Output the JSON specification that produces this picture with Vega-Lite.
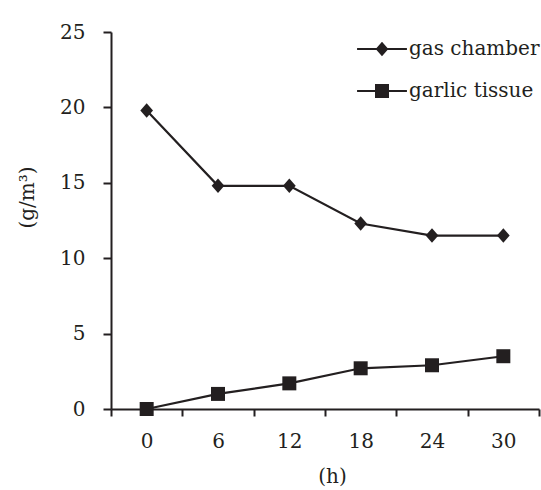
{
  "$schema": "https://vega.github.io/schema/vega-lite/v6.json",
  "width": 428,
  "height": 377,
  "autosize": {"type": "none"},
  "padding": {"left": 111, "top": 32, "right": 2, "bottom": 81},
  "background": "white",
  "config": {"view": {"stroke": null}, "font": "DejaVu Serif"},
  "data": {
    "values": [
      {"time": 0, "series": "gas chamber", "value": 19.8},
      {"time": 6, "series": "gas chamber", "value": 14.8},
      {"time": 12, "series": "gas chamber", "value": 14.8},
      {"time": 18, "series": "gas chamber", "value": 12.3},
      {"time": 24, "series": "gas chamber", "value": 11.5},
      {"time": 30, "series": "gas chamber", "value": 11.5},
      {"time": 0, "series": "garlic tissue", "value": 0},
      {"time": 6, "series": "garlic tissue", "value": 1.0},
      {"time": 12, "series": "garlic tissue", "value": 1.7},
      {"time": 18, "series": "garlic tissue", "value": 2.7},
      {"time": 24, "series": "garlic tissue", "value": 2.9},
      {"time": 30, "series": "garlic tissue", "value": 3.5}
    ]
  },
  "encoding": {
    "x": {
      "field": "time",
      "type": "ordinal",
      "scale": {"type": "band", "paddingInner": 0, "paddingOuter": 0},
      "axis": {
        "title": "(h)",
        "tickBand": "extent",
        "labelAngle": 0,
        "grid": false,
        "domainColor": "#231f20",
        "tickColor": "#231f20",
        "labelColor": "#231f20",
        "titleColor": "#231f20",
        "tickSize": 7,
        "tickWidth": 2,
        "domainWidth": 2,
        "labelFontSize": 20,
        "labelPadding": 15,
        "labelDx": -7,
        "titleFontSize": 20,
        "titleFontWeight": "normal",
        "titlePadding": 15,
        "titleX": 221
      }
    },
    "y": {
      "field": "value",
      "type": "quantitative",
      "scale": {"domain": [0, 25]},
      "axis": {
        "title": "(g/m³)",
        "values": [0, 5, 10, 15, 20, 25],
        "grid": false,
        "domainColor": "#231f20",
        "tickColor": "#231f20",
        "labelColor": "#231f20",
        "titleColor": "#231f20",
        "tickSize": 8,
        "tickWidth": 2,
        "domainWidth": 2,
        "labelFontSize": 20,
        "labelPadding": 18,
        "titleFontSize": 20,
        "titleFontWeight": "normal",
        "titlePadding": 22,
        "titleY": 165
      }
    }
  },
  "layer": [
    {
      "mark": {"type": "line", "color": "#231f20", "strokeWidth": 2.2},
      "encoding": {"detail": {"field": "series"}}
    },
    {
      "transform": [{"filter": "datum.series === 'gas chamber'"}],
      "mark": {"type": "point", "filled": true, "color": "#231f20", "opacity": 1, "size": 450, "shape": "M-0.6,0L0,-0.68L0.6,0L0,0.68Z"}
    },
    {
      "transform": [{"filter": "datum.series === 'garlic tissue'"}],
      "mark": {"type": "point", "filled": true, "color": "#231f20", "opacity": 1, "size": 196, "shape": "square"}
    },
    {
      "transform": [{"filter": "false"}],
      "mark": {"type": "point", "filled": true, "color": "#231f20", "opacity": 1},
      "encoding": {
        "shape": {
          "field": "series",
          "type": "nominal",
          "scale": {
            "domain": ["gas chamber", "garlic tissue"],
            "range": [
              "M-2.35,-0.1H2.35V0.1H-2.35ZM-0.6,0L0,-0.68L0.6,0L0,0.68Z",
              "M-2.35,-0.1H2.35V0.1H-2.35ZM-0.66,-0.66H0.66V0.66H-0.66Z"
            ]
          },
          "legend": {
            "orient": "none",
            "legendX": 260,
            "legendY": 6,
            "title": null,
            "padding": 0,
            "symbolSize": 450,
            "symbolFillColor": "#231f20",
            "symbolStrokeWidth": 0,
            "symbolOpacity": 1,
            "labelFontSize": 20,
            "labelOffset": 16,
            "rowPadding": 21,
            "labelColor": "#231f20"
          }
        }
      }
    }
  ]
}
